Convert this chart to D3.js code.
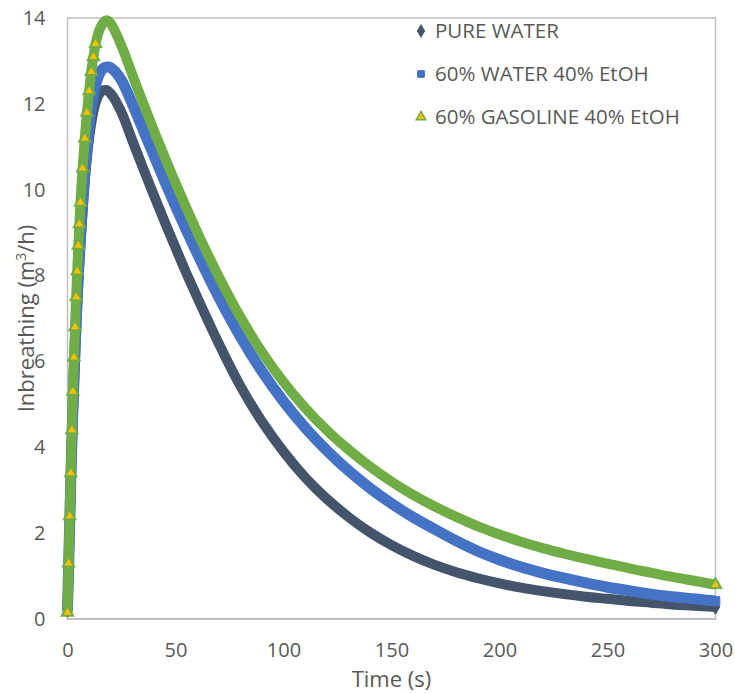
<!DOCTYPE html>
<html>
<head>
<meta charset="utf-8">
<script src="https://cdn.jsdelivr.net/npm/d3@7"></script>
<style>
  html, body { margin: 0; padding: 0; background: #ffffff; }
  svg { display: block; }
  text { font-family: "Open Sans", "Noto Sans", sans-serif; fill: #595959; }
</style>
</head>
<body>
<svg id="chart" width="735" height="694"></svg>
<script>
// ---- data ----
const time = [0,0.5,1,1.5,2,2.5,3,3.5,4,4.5,5,5.5,6,
  7,8,9,10,11,12,13,14,15,16,17,18,19,20,
  25,30,35,40,45,50,55,60,
  70,80,90,100,110,120,130,140,150,160,170,180,190,200,210,220,230,240,250,260,270,280,290,300];

const pureWater = [0.2,1.1,2.1,3.0,3.9,4.7,5.4,6.1,6.7,7.3,7.8,8.3,8.7,
  9.5,10.2,10.75,11.2,11.55,11.83,12.03,12.17,12.25,12.3,12.32,12.32,12.29,12.24,
  11.8,11.15,10.5,9.87,9.25,8.65,8.06,7.5,
  6.42,5.43,4.6,3.9,3.3,2.8,2.38,2.02,1.72,1.47,1.26,1.09,0.95,0.83,0.73,0.65,0.58,0.52,0.47,0.42,0.38,0.34,0.31,0.28];

const water60EtOH40 = [0.2,1.2,2.2,3.2,4.1,4.9,5.6,6.3,6.9,7.5,8.0,8.5,8.9,
  9.7,10.4,11.0,11.5,11.9,12.2,12.43,12.6,12.72,12.8,12.84,12.86,12.86,12.84,
  12.55,12.0,11.4,10.8,10.2,9.62,9.06,8.52,
  7.5,6.58,5.77,5.07,4.46,3.93,3.46,3.05,2.69,2.37,2.09,1.82,1.58,1.38,1.21,1.07,0.95,0.84,0.74,0.66,0.58,0.52,0.47,0.42];

const gasoline60EtOH40 = [0.15,1.3,2.4,3.4,4.4,5.3,6.1,6.8,7.5,8.1,8.7,9.2,9.7,
  10.5,11.2,11.8,12.3,12.75,13.1,13.4,13.6,13.75,13.85,13.92,13.95,13.93,13.87,
  13.35,12.68,12.02,11.38,10.76,10.16,9.58,9.02,
  7.98,7.04,6.22,5.52,4.92,4.4,3.95,3.55,3.2,2.89,2.62,2.38,2.16,1.97,1.8,1.65,1.52,1.4,1.29,1.18,1.08,0.98,0.89,0.8];

const seriesNames = ["PURE WATER", "60% WATER 40% EtOH", "60% GASOLINE 40% EtOH"];
const xTicks = [0,50,100,150,200,250,300];
const yTicks = [0,2,4,6,8,10,12,14];

// ---- layout ----
const svg = d3.select("#chart");
const x = d3.scaleLinear().domain([0,300]).range([67.5,715.5]);
const y = d3.scaleLinear().domain([0,14]).range([619,18]);

const styles = [
  {stroke:"#44546A", fill:"#44546A", symbol:d3.symbolDiamond, size:60, width:10},
  {stroke:"#4472C4", fill:"#4472C4", symbol:d3.symbolSquare, size:75, width:11},
  {stroke:"#70AD47", fill:"#FFC000", symbol:d3.symbolTriangle, size:55, width:10}
];
const seriesValues = [pureWater, water60EtOH40, gasoline60EtOH40];

// plot frame
svg.append("rect").attr("x",x(0)).attr("y",y(14)).attr("width",x(300)-x(0)).attr("height",y(0)-y(14))
  .attr("fill","none").attr("stroke","#BFBFBF").attr("stroke-width",1.5);
svg.append("line").attr("x1",x(0)).attr("x2",x(300)).attr("y1",y(0)).attr("y2",y(0))
  .attr("stroke","#BFBFBF").attr("stroke-width",2);

// axes
const xAxis = d3.axisBottom(x).tickValues(xTicks).tickSize(0).tickPadding(24);
const gx = svg.append("g").attr("transform",`translate(0,${y(0)})`).call(xAxis);
gx.select(".domain").remove();
gx.selectAll("text").style("font-size","20px").attr("fill","#595959").style("font-family","'Open Sans', sans-serif");

const yAxis = d3.axisLeft(y).tickValues(yTicks).tickSize(0).tickPadding(22);
const gy = svg.append("g").attr("transform",`translate(${x(0)},0)`).call(yAxis);
gy.select(".domain").remove();
gy.selectAll("text").style("font-size","20px").attr("fill","#595959").style("font-family","'Open Sans', sans-serif");

// axis titles
svg.append("text").attr("x",(x(0)+x(300))/2).attr("y",687).attr("text-anchor","middle")
  .style("font-size","22px").text("Time (s)");
const yt = svg.append("text").attr("transform",`translate(34,${(y(0)+y(14))/2}) rotate(-90)`)
  .attr("text-anchor","middle").style("font-size","22px");
yt.append("tspan").text("Inbreathing (m");
yt.append("tspan").attr("dy",-8).style("font-size","14px").text("3");
yt.append("tspan").attr("dy",8).text("/h)");

// series
const line = d3.line().x((d)=>x(d[0])).y((d)=>y(d[1])).curve(d3.curveMonotoneX);
seriesValues.forEach((vals, i) => {
  const st = styles[i];
  const pts = time.map((t, j) => [t, vals[j]]);
  const g = svg.append("g");
  g.append("path").datum(pts).attr("d", line).attr("fill","none")
    .attr("stroke", st.stroke).attr("stroke-width", st.width).attr("stroke-linejoin","round");
  const sym = d3.symbol().type(st.symbol).size(st.size);
  g.selectAll("path.m").data(pts.filter((d, j) => d[0] <= 13 || j === pts.length - 1)).join("path")
    .attr("class","m")
    .attr("transform", d => `translate(${x(d[0])},${y(d[1])})`)
    .attr("d", sym)
    .attr("fill", st.fill).attr("stroke", st.stroke).attr("stroke-width", i === 2 ? 2 : 1);
});

// legend
const legY = [31, 74, 117];
seriesNames.forEach((name, i) => {
  const st = styles[i];
  const lg = svg.append("g").attr("transform", `translate(421,${legY[i]})`);
  lg.append("path").attr("d", d3.symbol().type(st.symbol).size(i===2?40:45)())
    .attr("fill", st.fill).attr("stroke", st.stroke).attr("stroke-width", i===2?1.5:1);
  lg.append("text").attr("x", 14).attr("y", 0).attr("dy","0.35em")
    .style("font-size","20.5px").text(name);
});
</script>
</body>
</html>
